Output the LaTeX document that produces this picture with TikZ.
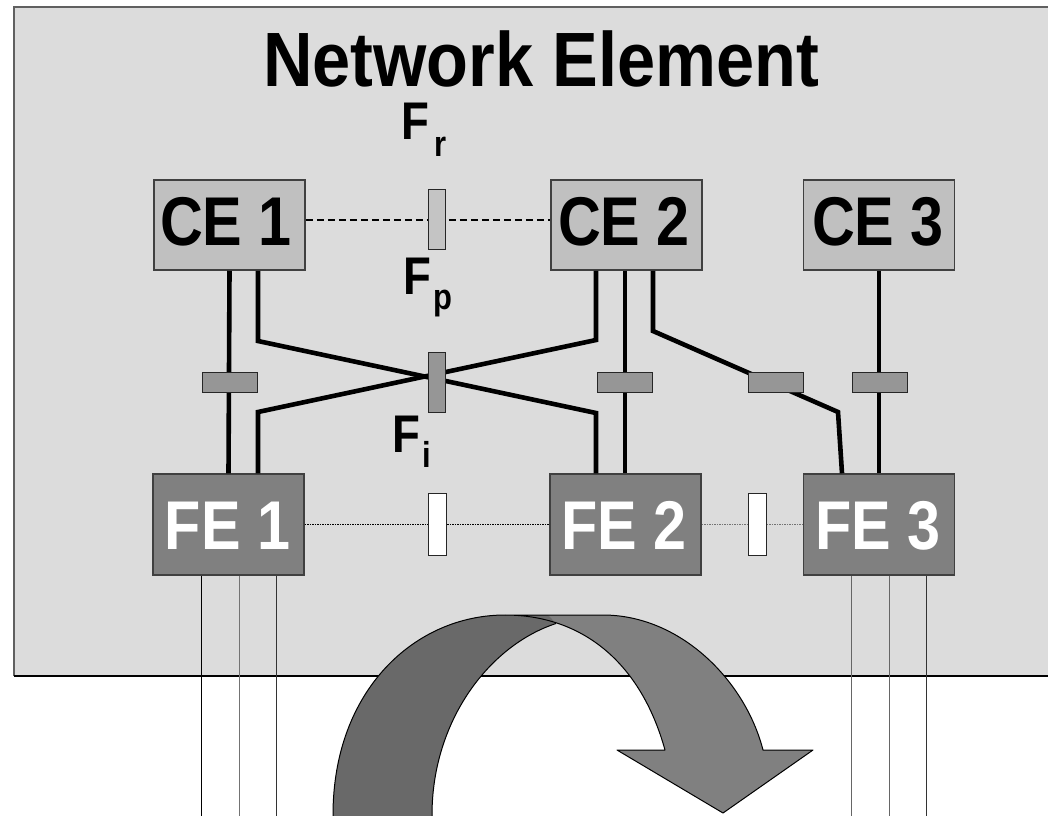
\documentclass[tikz,border=0pt]{standalone}
\usepackage{fontspec}
\newfontfamily\nb{Liberation Sans}[FakeStretch=0.86]
\newfontfamily\nbt{Liberation Sans}[FakeStretch=0.89]
\definecolor{bgc}{HTML}{DCDCDC}
\definecolor{bgedge}{HTML}{606060}
\definecolor{cefill}{HTML}{C0C0C0}
\definecolor{fefill}{HTML}{808080}
\definecolor{boxedge}{HTML}{404040}
\definecolor{sbfill}{HTML}{969696}
\definecolor{fpfill}{HTML}{C4C4C4}
\definecolor{arrdark}{HTML}{696969}
\definecolor{arrlight}{HTML}{808080}
\begin{document}
\begin{tikzpicture}[x=1pt,y=-1pt,
  cebox/.style={draw=boxedge, fill=cefill, line width=1.5pt, minimum width=151pt, minimum height=90pt, inner sep=0pt},
  febox/.style={draw=boxedge, fill=fefill, line width=1.5pt, minimum width=151pt, minimum height=101pt, inner sep=0pt},
  boxtext/.style={anchor=base, inner sep=0pt, font=\nb\bfseries\fontsize{69}{69}\selectfont},
  conn/.style={line width=4.6pt, black},
  smallbox/.style={draw=black!85, fill=sbfill, line width=1pt, minimum width=55pt, minimum height=20pt, inner sep=0pt},
  vbox/.style={draw=black!85, line width=1pt, minimum width=17pt, minimum height=60pt, inner sep=0pt},
  wbox/.style={draw=black!85, fill=white, line width=1pt, minimum width=18pt, minimum height=62pt, inner sep=0pt},
  lbl/.style={anchor=base west, inner sep=0pt, font=\nb\bfseries\fontsize{53}{53}\selectfont},
  sublbl/.style={anchor=base west, inner sep=0pt, font=\nb\bfseries\fontsize{36}{36}\selectfont},
  thin/.style={line width=1pt},
  arrline/.style={draw=black, line width=1pt, line join=round}]
\clip (0,0) rectangle (1048,815);
\fill[white] (0,0) rectangle (1048,815);
% background
\fill[bgc] (14,7) rectangle (1060,676);
\draw[bgedge, line width=2pt] (14,676) -- (14,7) -- (1060,7);
\draw[black, line width=1.5pt] (14,676) -- (1060,676);
% title
\node[anchor=base, inner sep=0pt, font=\nbt\bfseries\fontsize{77}{77}\selectfont] (title) at (541,86) {Network Element};
% boxes
\node[cebox] (ce1) at (229.5,225) {};
\node[cebox] (ce2) at (626.5,225) {};
\node[cebox] (ce3) at (879,225) {};
\node[febox] (fe1) at (228.5,524.5) {};
\node[febox] (fe2) at (625.5,524.5) {};
\node[febox] (fe3) at (879,524.5) {};
\node[boxtext] (ce1t) at (226,245) {CE 1};
\node[boxtext] (ce2t) at (624,245) {CE 2};
\node[boxtext] (ce3t) at (878,245) {CE 3};
\node[boxtext, white] (fe1t) at (227.5,549) {FE 1};
\node[boxtext, white] (fe2t) at (624,549) {FE 2};
\node[boxtext, white] (fe3t) at (878,549) {FE 3};
% coordinates of bends
\coordinate (b1) at (258,341);
\coordinate (b2) at (596,413);
\coordinate (b3) at (596,340);
\coordinate (b4) at (258,412);
\coordinate (c1) at (653,331);
\coordinate (c2) at (838,412);
% CE-CE dashed
\draw[black, line width=1.3pt, dash pattern=on 7pt off 4pt] ([yshift=5pt]ce1.east) -- ([yshift=5pt]ce2.west);
% FE-FE dotted
\draw[black, line width=1.5pt, dash pattern=on 1.5pt off 1pt] (fe1.east) -- (fe2.west);
\draw[black!55, line width=1.5pt, dash pattern=on 1.5pt off 1pt] (fe2.east) -- (fe3.west);
% thick connectors
\draw[conn] (ce1.south) -- (fe1.north);
\draw[conn] (ce1.south -| b1) -- (b1) -- (b2) -- (b2 |- fe2.north);
\draw[conn] (ce2.south -| b3) -- (b3) -- (b4) -- (b4 |- fe1.north);
\draw[conn] ([xshift=-1.5pt]ce2.south) -- ([xshift=-0.5pt]fe2.north);
\draw[conn] (ce2.south -| c1) -- (c1) -- (c2) -- ([xshift=-37pt]fe3.north);
\draw[conn] (ce3.south) -- (fe3.north);
% small boxes on connectors
\node[smallbox] (s1) at (229.5,382) {};
\node[smallbox] (s2) at (625,382) {};
\node[smallbox] (s3) at (775.5,382) {};
\node[smallbox] (s4) at (879.5,382) {};
\node[vbox, fill=sbfill] (fi) at (436.5,382) {};
\node[vbox, fill=fpfill] (fp) at (436.5,219.5) {};
\node[wbox] (w1) at (437,524) {};
\node[wbox] (w2) at (757,524) {};
% labels
\node[lbl] (frF) at (401,139) {F};
\node[sublbl] (frs) at (434,156) {r};
\node[lbl] (fpF) at (403,294) {F};
\node[sublbl] (fps) at (433,309) {p};
\node[lbl] (fiF) at (392,452) {F};
\node[sublbl] (fis) at (422,467) {i};
% thin lines below FEs
\draw[thin, black] ([xshift=-27.5pt]fe1.south) -- ++(0,250);
\draw[thin, black!55] ([xshift=10.5pt]fe1.south) -- ++(0,250);
\draw[thin, black!80] ([xshift=47.5pt]fe1.south) -- ++(0,250);
\draw[thin, black!60] ([xshift=-28pt]fe3.south) -- ++(0,250);
\draw[thin, black!60] ([xshift=10pt]fe3.south) -- ++(0,250);
\draw[thin, black!80] ([xshift=47pt]fe3.south) -- ++(0,250);
% curved arrow
\fill[arrlight] (505,615) -- (603,615) .. controls (680,615) and (745,680) .. (763,750) -- (813,750) -- (723,813) -- (617,750) -- (665,750) .. controls (640,660) and (580,615) .. (505,615) -- cycle;
\fill[arrdark] (333,830) -- (333,815) .. controls (333,690) and (415,615) .. (505,615) -- (548,615) -- (556,623.5) .. controls (490,645) and (432,720) .. (432,815) -- (432,830) -- cycle;
\draw[arrline] (505,615) -- (603,615) .. controls (680,615) and (745,680) .. (763,750) -- (813,750) -- (723,813) -- (617,750) -- (665,750) .. controls (640,660) and (580,615) .. (505,615);
\draw[arrline] (333,830) -- (333,815) .. controls (333,690) and (415,615) .. (505,615);
\draw[arrline] (556,623.5) .. controls (490,645) and (432,720) .. (432,815) -- (432,830);
\end{tikzpicture}
\end{document}
